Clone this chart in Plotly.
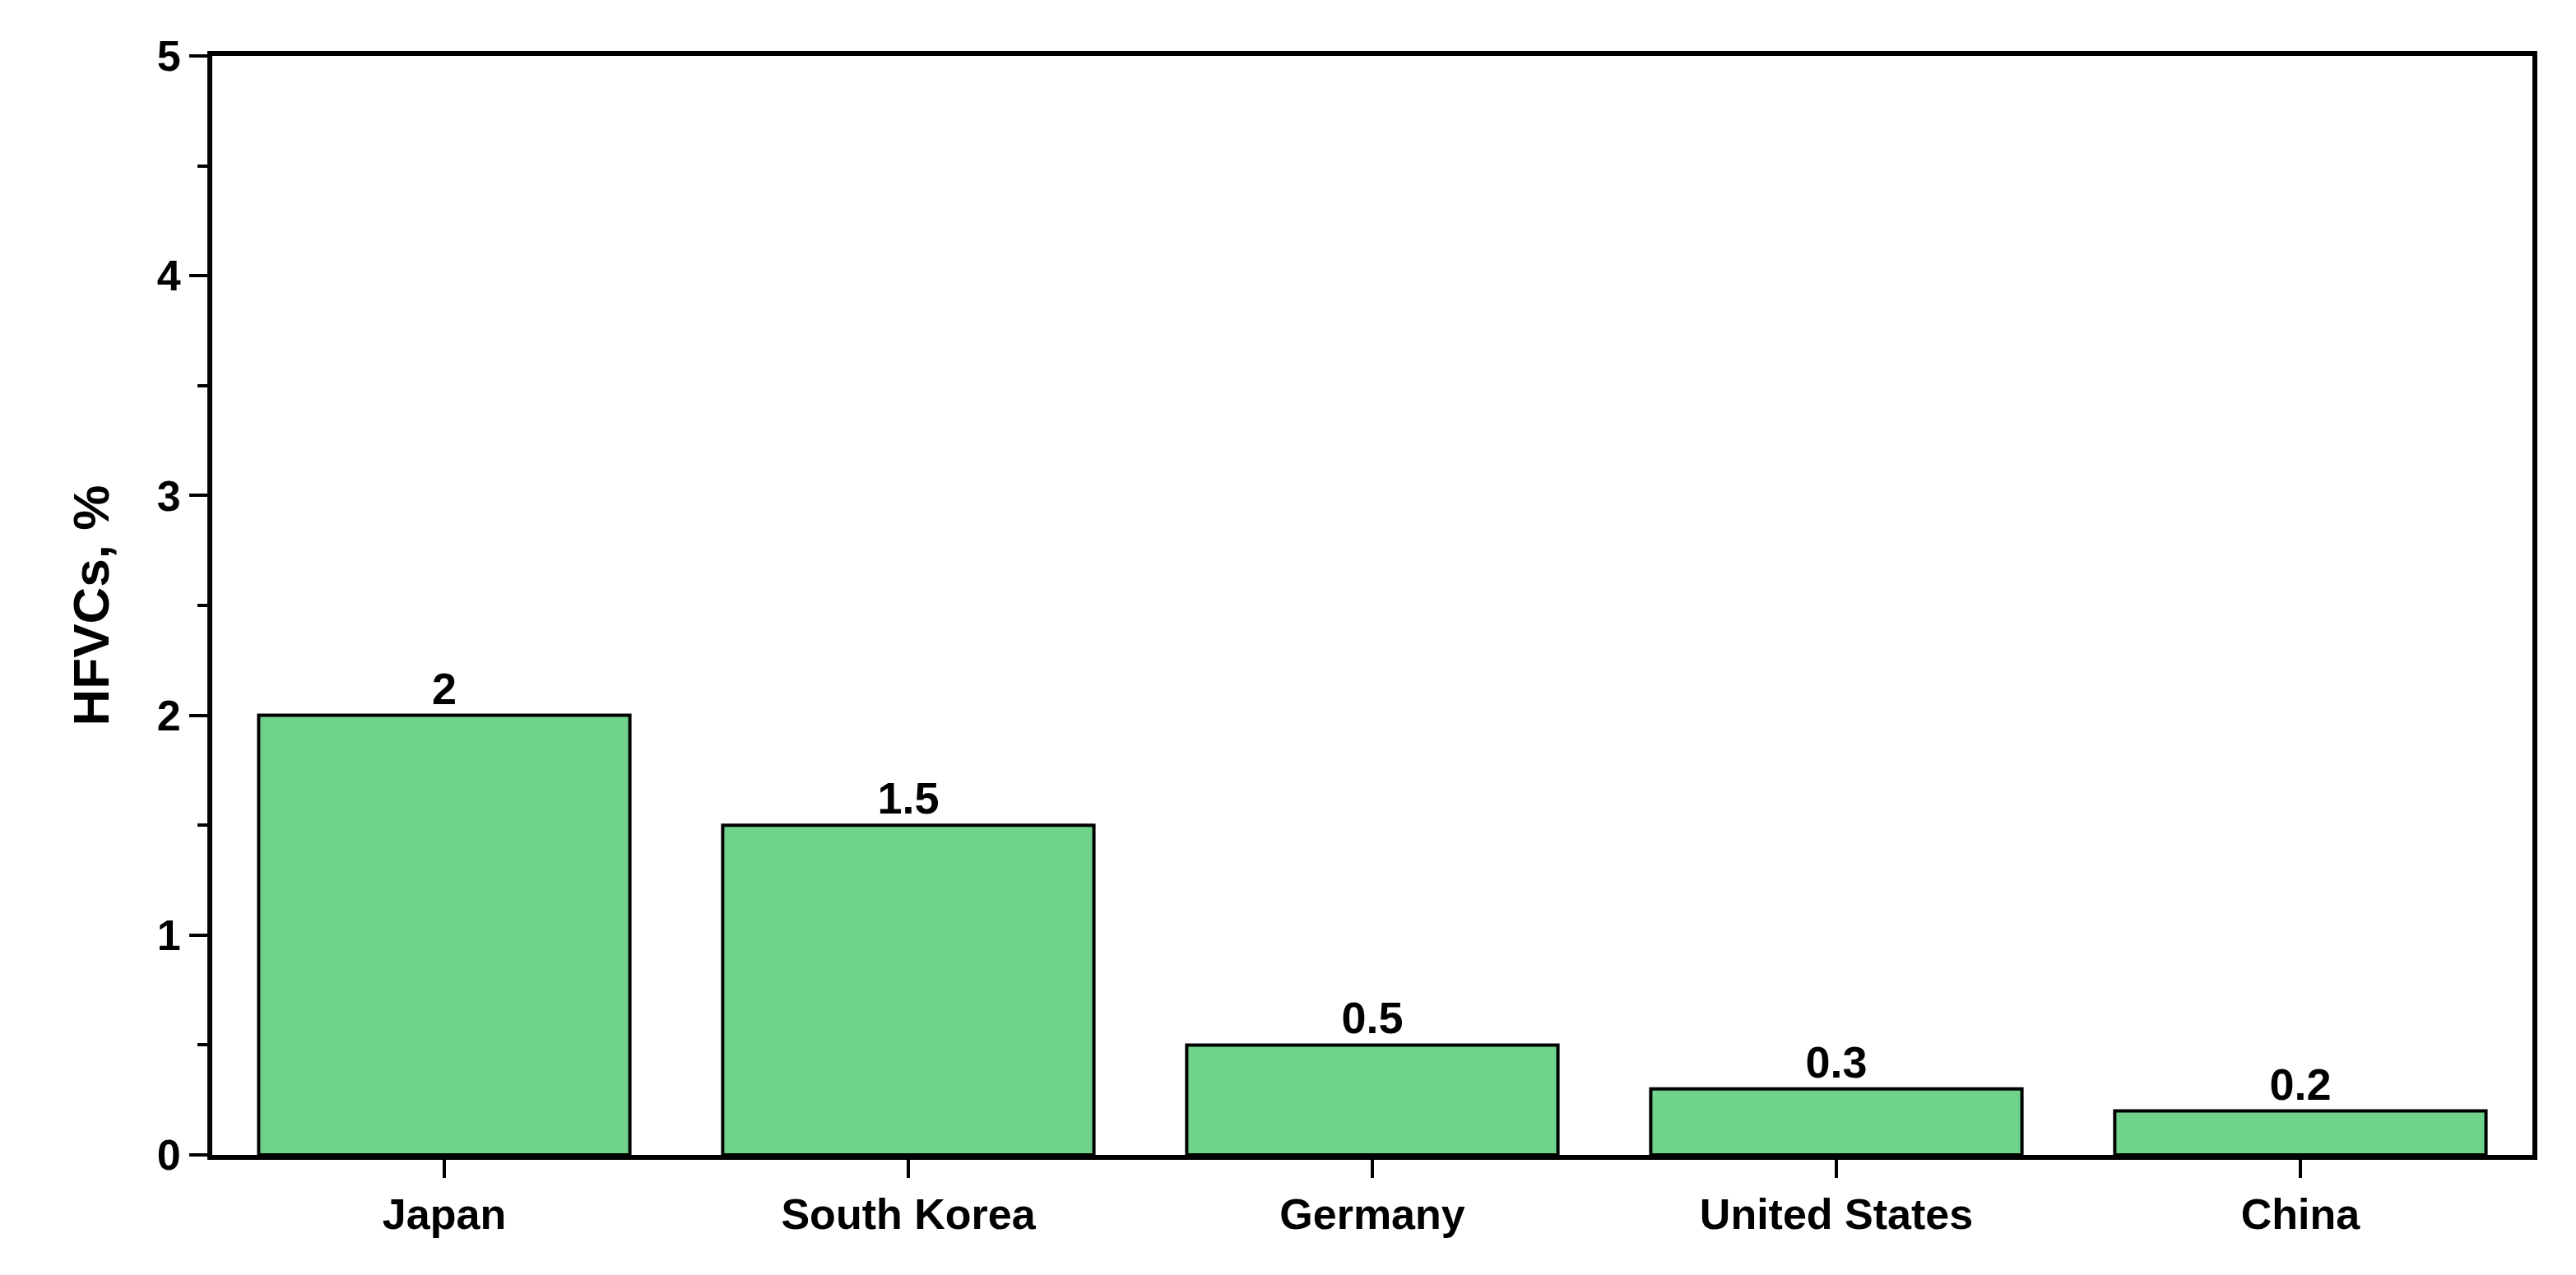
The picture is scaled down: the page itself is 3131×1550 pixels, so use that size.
import plotly.graph_objects as go

countries = ["Japan", "South Korea", "Germany", "United States", "China"]
hfvc_share = [2, 1.5, 0.5, 0.3, 0.2]
labels = ["2", "1.5", "0.5", "0.3", "0.2"]

font = dict(family="Liberation Sans, Arial", size=52, color="black")

fig = go.Figure(go.Bar(
    x=countries, y=hfvc_share, width=0.8,
    marker=dict(color="#6fd38a", line=dict(color="black", width=4)),
    text=labels, textposition="outside", cliponaxis=False,
    textfont=dict(family="Liberation Sans, Arial", size=54, color="black"),
))

fig.update_layout(
    width=3131, height=1550,
    margin=dict(l=250, r=61, t=60, b=154),
    plot_bgcolor="white", paper_bgcolor="white",
    font=font, showlegend=False,
)
fig.update_xaxes(
    range=[-0.5, 4.5], showline=True, linewidth=6, linecolor="black",
    mirror=True, ticks="outside", ticklen=22, tickwidth=4, tickcolor="black",
    tickfont=dict(family="Liberation Sans, Arial", size=52, color="black"),
    showgrid=False,
)
fig.update_yaxes(
    range=[0, 5], dtick=1, showline=True, linewidth=6, linecolor="black",
    mirror=True, ticks="outside", ticklen=22, tickwidth=4, tickcolor="black",
    minor=dict(dtick=0.5, ticks="outside", ticklen=12, tickwidth=4, tickcolor="black"),
    tickfont=dict(family="Liberation Sans, Arial", size=52, color="black"),
    title=dict(text="<b>HFVCs, %</b>", font=dict(family="Liberation Sans, Arial", size=62, color="black"), standoff=40),
    showgrid=False, zeroline=False,
)
fig.update_layout(font=dict(weight="bold"))
fig.update_xaxes(tickfont_weight="bold")
fig.update_yaxes(tickfont_weight="bold")
fig.update_traces(textfont_weight="bold")

fig.write_html("out.html")
